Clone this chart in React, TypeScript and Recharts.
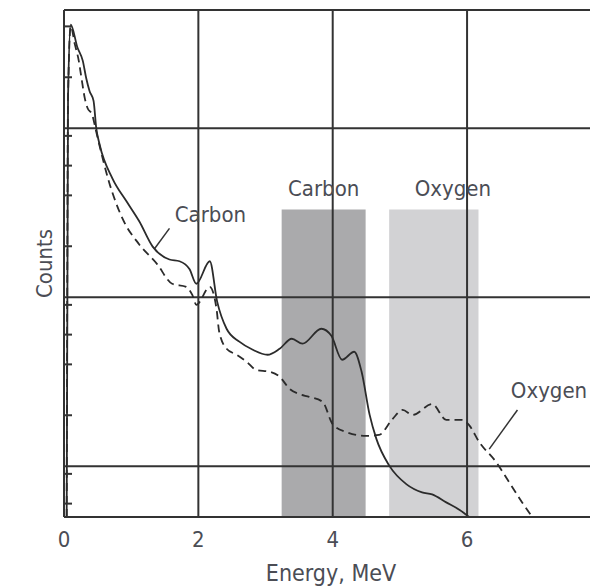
import {
  Label,
  Line,
  LineChart,
  ReferenceArea,
  ReferenceDot,
  ReferenceLine,
  XAxis,
  YAxis,
} from "recharts";

// gamma-ray spectra, counts on a log scale vs energy (MeV)
const carbonEnergy = [
  0.04, 0.06, 0.1, 0.2, 0.28, 0.33, 0.38, 0.44, 0.48, 0.53, 0.72, 0.93, 1.12,
  1.32, 1.57, 1.72, 1.87, 1.97, 2.17, 2.28, 2.42, 2.61, 2.81, 3.03, 3.21, 3.39,
  3.55, 3.83, 3.98, 4.14, 4.32, 4.43, 4.55, 4.65, 4.84, 5.1, 5.33, 5.48, 5.69,
  5.89, 6.03,
];
const carbonCounts = [
  5, 1500, 4100, 3000, 2500, 1980, 1660, 1450, 1000, 800, 505, 369, 281, 199,
  167, 163, 146, 120, 163, 94, 65, 54.5, 48.8, 45.6, 49.5, 56.7, 53, 65, 59,
  42.6, 47.5, 36.2, 20.1, 14.5, 10.1, 7.8, 7.0, 6.8, 6.1, 5.5, 5,
];

const oxygenEnergy = [
  0.04, 0.06, 0.1, 0.16, 0.22, 0.26, 0.31, 0.35, 0.42, 0.48, 0.68, 0.87, 1.12,
  1.38, 1.61, 1.82, 1.91, 1.97, 2.17, 2.27, 2.31, 2.42, 2.57, 2.72, 2.86, 3.06,
  3.21, 3.36, 3.5, 3.65, 3.85, 4.0, 4.2, 4.5, 4.69, 4.89, 5.04, 5.19, 5.48,
  5.69, 5.93, 6.03, 6.18, 6.43, 6.63, 6.82, 6.97,
];
const oxygenCounts = [
  5, 1500, 4000, 3150, 2500, 1980, 1500, 1315, 1200, 950, 466, 292, 205, 158,
  120, 115, 103, 90, 115, 85.5, 62.4, 49.5, 45.6, 41.4, 37.1, 36.2, 33.8, 28.6,
  26.7, 25.7, 24, 17.7, 15.9, 15.1, 15.3, 19.0, 21.5, 20.1, 23.3, 18.8, 18.8,
  17.5, 13.9, 10.6, 8.0, 6.1, 5,
];

// counting windows (MeV)
const windows = [
  { name: "Carbon", from: 3.24, to: 4.49, fill: "#aaaaac", dx: 0 },
  { name: "Oxygen", from: 4.84, to: 6.17, fill: "#d2d2d4", dx: 19 },
];
const windowTop = 330;

const xTicks = [0, 2, 4, 6];
const decades = [10, 100, 1000];
const minorTicks = [
  6, 7, 8, 9, 20, 30, 40, 50, 60, 70, 80, 90, 200, 300, 400, 500, 600, 700, 800,
  900, 2000, 3000, 4000,
];

const carbonData = carbonEnergy.map((e, i) => ({ energy: e, counts: carbonCounts[i] }));
const oxygenData = oxygenEnergy.map((e, i) => ({ energy: e, counts: oxygenCounts[i] }));

const FONT = "'Liberation Sans Narrow', 'DejaVu Sans Condensed', 'Arial Narrow', sans-serif";
const INK = "#333";
const TEXT = "#4b4d55";

// y-axis minor ticks point into the plot
const InnerTick = (props: any) => {
  const { x, y } = props;
  return <line x1={x} x2={x + 8} y1={y} y2={y} stroke={INK} strokeWidth={2} />;
};

const CountsLabel = (props: any) => {
  const vb = props.viewBox || {};
  const cx = (vb.x ?? 0) + 44;
  const cy = (vb.y ?? 0) + (vb.height ?? 0) / 2;
  return (
    <text
      x={cx}
      y={cy}
      transform={`rotate(-90, ${cx}, ${cy})`}
      textAnchor="middle"
      dominantBaseline="central"
      fill={TEXT}
      fontSize={22}
      fontFamily={FONT}
    >
      Counts
    </text>
  );
};

export default function App() {
  return (
    <div style={{ position: "absolute", left: 0, top: 0, background: "#fff" }}>
      <LineChart
        width={590}
        height={586}
        margin={{ top: 10, right: 0, bottom: 0, left: 0 }}
      >
        <XAxis
          dataKey="energy"
          type="number"
          domain={[0, 7.83]}
          ticks={xTicks}
          allowDataOverflow
          height={69}
          tickLine={false}
          tickSize={0}
          tickMargin={14}
          axisLine={{ stroke: INK, strokeWidth: 2 }}
          tick={{ fill: TEXT, fontSize: 22, fontFamily: FONT }}
        >
          <Label
            value="Energy, MeV"
            position="insideBottom"
            offset={5}
            dx={4}
            fill={TEXT}
            fontSize={23}
            fontFamily={FONT}
          />
        </XAxis>
        <YAxis
          dataKey="counts"
          scale="log"
          domain={[5, 5000]}
          allowDataOverflow
          ticks={minorTicks}
          width={64}
          tickSize={0}
          tickMargin={0}
          tickLine={false}
          axisLine={{ stroke: INK, strokeWidth: 2 }}
          tick={<InnerTick />}
          label={<CountsLabel />}
        />

        {windows.map((w) => (
          <ReferenceArea
            key={w.name}
            x1={w.from}
            x2={w.to}
            y1={5}
            y2={windowTop}
            fill={w.fill}
            fillOpacity={1}
            stroke="none"
            label={{
              value: w.name,
              position: "top",
              offset: 13,
              dx: w.dx,
              fill: TEXT,
              fontSize: 22,
              fontFamily: FONT,
            }}
          />
        ))}

        {decades.map((v) => (
          <ReferenceLine key={`h${v}`} y={v} stroke={INK} strokeWidth={2} />
        ))}
        {xTicks.slice(1).map((v) => (
          <ReferenceLine key={`v${v}`} x={v} stroke={INK} strokeWidth={2} />
        ))}
        <ReferenceLine y={5000} stroke={INK} strokeWidth={2} />

        {/* leader lines from the curve labels */}
        <ReferenceLine
          segment={[
            { x: 1.57, y: 255 },
            { x: 1.35, y: 194 },
          ]}
          stroke={INK}
          strokeWidth={1.5}
        />
        <ReferenceLine
          segment={[
            { x: 6.75, y: 21.5 },
            { x: 6.33, y: 12.6 },
          ]}
          stroke={INK}
          strokeWidth={1.5}
        />

        <Line
          data={carbonData}
          dataKey="counts"
          type="monotone"
          stroke="#2b2b2b"
          strokeWidth={1.8}
          dot={false}
          isAnimationActive={false}
        />
        <Line
          data={oxygenData}
          dataKey="counts"
          type="monotone"
          stroke="#2b2b2b"
          strokeWidth={1.8}
          strokeDasharray="8 5"
          dot={false}
          isAnimationActive={false}
        />

        <ReferenceDot
          x={2.18}
          y={309}
          r={0}
          fillOpacity={0}
          stroke="none"
          label={{ value: "Carbon", position: "center", fill: TEXT, fontSize: 22, fontFamily: FONT }}
        />
        <ReferenceDot
          x={7.22}
          y={28.3}
          r={0}
          fillOpacity={0}
          stroke="none"
          label={{ value: "Oxygen", position: "center", fill: TEXT, fontSize: 22, fontFamily: FONT }}
        />
      </LineChart>
    </div>
  );
}
